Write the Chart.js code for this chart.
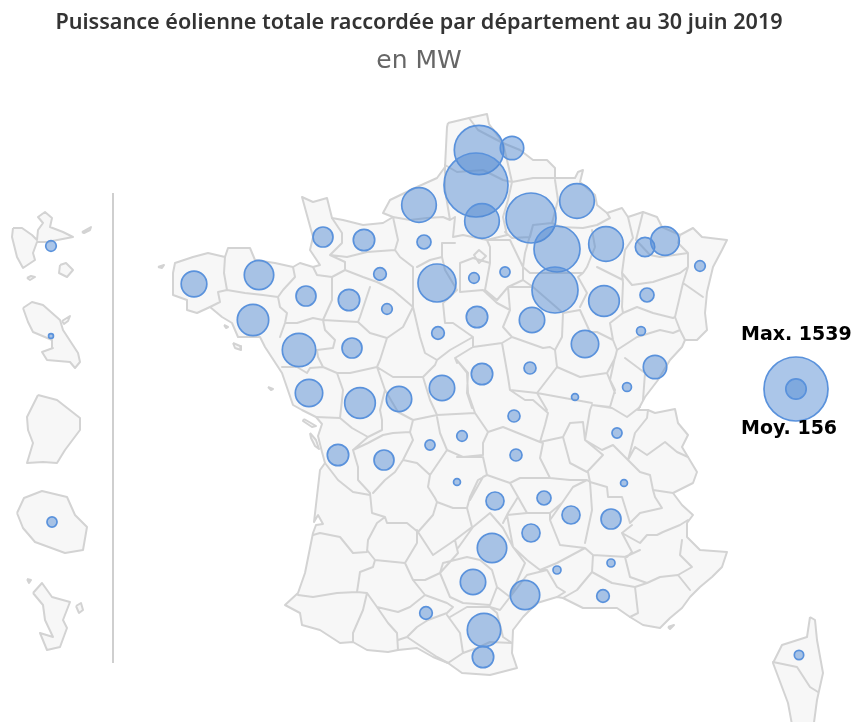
<!DOCTYPE html>
<html lang="fr">
<head>
  <meta charset="UTF-8" />
  <title>Puissance éolienne par département</title>
  <script src="https://cdn.jsdelivr.net/npm/chart.js"></script>
  <style>
    body { margin: 0; background: #ffffff; }
    canvas { display: block; }
  </style>
</head>
<body>
  <canvas id="carte" width="854" height="722"></canvas>
  <script>
    // Bubbles: map position of each department and its power in MW
    const deptX = [194,259,253,323,364,419,424,380,306,349,437,387,438,299,352,309,360,399,442,479,512,476,482,531,577,557,606,645,665,700,555,604,647,641,532,477,474,505,585,655,530,482,627,575,514,462,430,516,338,384,457,495,544,571,492,531,611,624,617,557,611,603,473,525,426,484,483,799,51,51,52];
    const deptY = [284,275,320,237,240,205,242,274,296,300,283,309,333,350,348,393,403,399,388,150,148,185,221,218,201,249,244,247,241,266,290,301,295,331,320,317,278,272,344,367,368,374,387,397,416,436,445,455,455,460,482,501,498,515,548,533,519,483,433,570,563,596,582,595,613,630,657,655,246,336,522];
    const deptMW = [247,325,370,150,172,450,74,60,150,172,543,42,60,419,150,282,352,242,242,917,206,1539,450,939,450,795,450,141,307,42,795,352,74,30,242,172,42,38,282,206,54,172,30,18,54,42,38,54,172,150,18,122,74,122,325,122,150,18,38,24,24,60,242,325,60,419,172,33,42,9,38];

    const legendValues = [1539, 156];
    const legendX = [796, 796];
    const legendY = [389, 389];
    const legendLabels = ['Max. 1539', 'Moy. 156'];
    const legendLabelY = [335, 429];
    const maxRadius = 32;

    const titleText = 'Puissance éolienne totale raccordée par département au 30 juin 2019';
    const subtitleText = 'en MW';

    // Filled land, closed outlines as x,y lists in map units
    const landShapes = [
      // metropolitan France
      [448,123,469,118,487,114,489,124,503,143,520,150,533,160,547,160,555,168,555,178,575,178,578,172,583,170,580,182,595,195,597,205,607,213,622,208,628,217,643,212,657,217,662,227,680,235,693,228,702,237,727,240,722,250,713,267,707,292,705,313,707,330,697,340,685,340,682,347,670,360,658,380,645,397,638,410,648,410,655,413,675,409,678,423,688,435,682,447,688,457,697,472,693,483,673,493,682,505,693,515,687,523,687,537,700,550,727,552,722,567,712,577,700,587,690,597,682,608,670,618,660,628,643,625,630,617,617,608,603,608,583,608,563,598,557,597,537,603,523,617,513,630,512,653,517,668,490,675,462,673,448,663,433,657,417,648,398,650,388,652,367,650,353,642,340,643,320,630,302,625,300,613,285,605,298,593,305,573,313,533,316,525,323,524,318,515,314,522,320,470,325,463,322,452,318,436,322,424,316,417,302,410,293,405,282,373,265,347,260,337,238,337,232,323,222,317,210,307,197,313,187,310,187,300,173,295,173,273,175,263,193,257,208,253,225,257,228,248,250,248,255,260,275,263,293,267,300,263,313,267,320,265,310,250,313,237,302,197,313,202,327,198,332,218,343,220,363,225,383,223,393,217,383,213,390,200,417,187,437,178,445,167,447,127],
      // Corse
      [810,617,815,620,817,640,823,673,817,700,813,730,793,730,788,703,782,687,773,663,782,645,807,637],
      // Guadeloupe
      [13,228,22,228,32,235,37,240,38,230,43,223,38,217,45,212,52,218,50,227,63,232,73,237,47,242,37,242,33,253,35,260,23,268,17,257,12,237],
      [60,265,66,263,73,270,67,277,59,273],
      [82,232,91,227,90,230,84,233],
      [27,278,31,276,35,277,30,280],
      // Martinique
      [23,308,32,302,43,305,60,320,63,330,78,353,80,362,75,368,70,362,47,360,42,352,53,348,52,340,33,332,28,322],
      [62,321,70,316,68,321,64,324],
      // Guyane
      [38,395,57,400,80,418,80,430,65,450,57,463,43,462,27,463,33,443,28,430,27,417],
      // La Réunion
      [17,513,24,498,42,491,67,497,75,515,87,527,83,550,65,553,35,542,23,528],
      // Mayotte
      [33,593,42,583,52,597,70,602,63,620,67,628,60,647,47,650,40,633,53,637,45,620,43,605],
      [76,606,81,603,83,610,79,613],
      [27,579,31,580,29,583],
      // coastal islands
      [158,267,164,265,162,268],
      [224,325,228,327,226,328],
      [233,343,240,346,241,350,235,348],
      [268,387,273,389,271,390],
      [304,419,316,426,312,427,303,421],
      [310,433,316,440,319,449,315,446,311,438],
      [668,627,674,625,670,629]
    ];

    // Boundaries between departments, open lines as x,y lists
    const deptBorders = [
      [225,257,224,273,227,290], [227,290,218,292,220,302,210,307], [227,290,245,293,263,295,278,297],
      [293,267,295,277,283,290,278,297,280,307,287,313,285,323,280,337], [285,323,297,323,313,318,323,320],
      [313,267,317,275,332,277,332,300,323,320,325,330,335,340,333,348,317,350,318,357],
      [332,218,342,233,342,243,330,255,345,262,345,270,332,277], [330,255,347,257,367,252,395,250],
      [393,217,398,240,395,250,400,257,413,267,413,280,413,307], [345,270,363,277,377,282,393,290,413,307],
      [370,287,360,317,358,322,323,320], [358,322,370,333,387,338,380,360,377,367,350,373,337,373,323,367,318,357],
      [413,307,403,327,387,338], [318,357,323,367,310,368,307,373,297,367,282,367],
      [337,373,343,390,342,400,340,418,316,417], [340,418,352,428,368,437,353,450,358,467,358,480,370,493,372,513,385,517,377,523,368,540,367,552,353,553,340,537,320,533,313,535],
      [325,463,338,480,353,492,370,495], [368,437,382,430,382,420,380,410,385,390,377,367],
      [353,450,368,443,383,435,393,433,410,432,413,440,403,460,395,472,385,480,373,493],
      [413,420,410,432], [393,377,423,377,430,400,437,415,413,420,398,412,385,390], [377,367,393,377],
      [413,307,420,337,425,353,437,360,450,350,473,337], [423,377,435,365,437,360],
      [437,415,475,413,488,432,483,443,483,455,463,457,447,450,440,433,437,417],
      [447,450,430,475,417,463,403,460], [430,475,428,487,435,498,437,502,433,515,418,532,407,523,387,523,385,517],
      [457,457,483,457,487,475,478,480,470,497,467,508,453,508,437,502],
      [417,530,417,543,405,563,375,560,367,550], [375,560,373,567,360,572,357,592], [418,532,433,555,455,540,472,527,467,508],
      [405,563,413,580,425,580,440,573,458,553,455,540],
      [298,595,313,597,337,593,357,592,367,593,377,607,398,612,410,607,425,595,413,580], [367,593,363,610,353,633,353,642],
      [377,607,388,623,397,633,398,650], [398,640,407,637,417,627,428,620,447,613,453,607,447,603,425,595],
      [407,637,437,657,448,663], [447,615,460,633,463,653,448,663], [463,653,477,648,490,642,512,643],
      [440,573,450,597,463,603,490,605,497,587,492,570,480,560,467,557,443,563,440,573],
      [450,617,467,607,490,607,497,613,503,637,512,643], [490,607,500,610,510,597,527,575,547,570,557,587,565,592,557,597],
      [458,548,473,527,490,513,503,528,513,547,525,563,510,597], [497,587,510,597],
      [470,500,483,477,487,475,510,483,518,497,508,513,503,523], [518,497,527,513,550,513,562,503,573,487],
      [510,483,520,478,550,478,540,458,543,443,540,442,503,427,488,432], [550,478,570,480,587,480],
      [475,413,468,393,467,373,455,358,457,363], [473,337,453,323,445,323,443,303,457,290,445,270,442,257,430,260,417,267],
      [442,257,442,243,455,243], [460,263,460,292,483,290,497,303,510,310,503,327,512,337,502,343,473,347,455,358,468,373,467,393,472,408],
      [460,263,473,258,490,263,485,290], [473,337,473,347], [502,343,508,377,510,390,537,393,557,367,555,350,550,347,543,348,512,337],
      [547,410,537,393], [503,327,510,310,508,287,533,287,563,313,562,337,555,350], [510,390,525,400,533,400,548,413,545,425,540,442],
      [557,367,580,377,607,373,615,358,617,350,613,340,610,323,623,313,622,307,623,283,622,273,625,250,633,238,628,217],
      [563,313,580,310,590,332,597,332,613,340], [580,307,587,293,578,277,583,273,587,267,595,247,592,230],
      [523,267,530,273,583,273], [523,280,533,287], [597,267,623,280], [533,225,525,253,523,267,523,280,508,287,497,300,485,290],
      [490,263,490,247,487,240,510,240,523,267], [512,182,508,200,503,217,507,235,487,240,463,235,453,237,455,217,450,220,443,217,427,218,410,220,393,217],
      [445,167,445,190,450,220], [445,165,457,172,483,170,503,180,512,182,533,178,555,178], [503,143,507,160,512,182],
      [469,118,478,130,497,140,503,143], [555,180,558,200,552,223,533,225,530,237,512,238,505,232], [552,223,560,227,583,228,597,225,610,218,607,213],
      [643,212,636,240,650,255,660,257,688,253,688,267,680,273,653,282,632,285,622,273], [680,235,678,243,688,253],
      [688,267,683,283,703,297], [683,283,675,317,680,330,685,340], [623,313,637,307,653,313,673,318,675,317],
      [617,350,637,337,660,330,673,333,680,330], [625,358,645,373,643,400], [615,357,610,380,615,390,610,407,592,405,590,410,585,440,583,422,570,423,563,437,540,442],
      [537,393,592,403], [615,393,607,373], [590,410,585,440,602,450,613,445,628,460,635,433,647,418,648,410], [592,405,612,408,627,417,640,407],
      [570,423,563,437,570,463,587,472,603,455,585,440], [588,472,590,482,587,480,573,487,562,503,550,520,560,545,585,548,593,555,592,572,577,590,563,598],
      [613,445,628,460,640,472,650,475,653,490,655,497,662,508,640,513,630,523,622,497,608,497,607,487,590,482],
      [628,460,635,447,647,455,665,442,677,452,688,457], [653,490,673,493], [590,482,592,510,585,543], [622,533,632,525],[622,533,632,552,627,557,593,555],
      [622,533,640,543,647,535,657,535,663,532,680,525,688,520], [640,550,625,557,630,577,647,583,660,577,678,575,692,567,680,555,682,540],
      [678,575,690,590], [635,587,638,613,630,617], [592,572,612,583,635,587,647,583], [540,570,557,563,585,548], [507,515,513,547,527,560,540,570,547,570],
      [527,513,507,515], [550,513,550,520],
      [773,662,797,667,810,687,818,692]
    ];

    // Paris and its inner suburbs
    const parisRing = [474,255,479,250,486,256,479,263,474,255];

    const separatorX = [113, 113];
    const separatorY = [193, 663];

    function toPoints(flat) {
      const points = [];
      for (let i = 0; i < flat.length; i += 2) {
        points.push({ x: flat[i], y: flat[i + 1] });
      }
      return points;
    }

    function bubbleRadius(mw) {
      return maxRadius * Math.sqrt(mw / legendValues[0]);
    }

    const bubbleFill = 'rgba(80, 135, 210, 0.48)';
    const bubbleBorder = '#5a92dc';
    const mapBorder = '#d3d3d3';

    const datasets = [];

    datasets.push({
      type: 'bubble',
      order: 0,
      clip: false,
      data: deptX.map((x, i) => ({ x: x, y: deptY[i], r: bubbleRadius(deptMW[i]) })),
      backgroundColor: bubbleFill,
      borderColor: bubbleBorder,
      borderWidth: 1.7
    });

    datasets.push({
      type: 'bubble',
      order: 0,
      clip: false,
      data: legendValues.map((v, i) => ({ x: legendX[i], y: legendY[i], r: bubbleRadius(v) })),
      backgroundColor: bubbleFill,
      borderColor: bubbleBorder,
      borderWidth: 1.7
    });

    // Department borders, one dataset with gaps between the lines
    const borderPoints = [];
    deptBorders.concat([parisRing]).forEach(line => {
      borderPoints.push(...toPoints(line), { x: null, y: null });
    });
    datasets.push({
      type: 'line',
      order: 1,
      data: borderPoints,
      borderColor: mapBorder,
      borderWidth: 2,
      pointRadius: 0,
      tension: 0,
      fill: false,
      spanGaps: false,
      borderJoinStyle: 'round',
      borderCapStyle: 'round'
    });

    landShapes.forEach(shape => {
      const points = toPoints(shape);
      points.push(points[0]);
      datasets.push({
        type: 'line',
        order: 2,
        data: points,
        borderColor: mapBorder,
        backgroundColor: '#f7f7f7',
        borderWidth: 2,
        pointRadius: 0,
        tension: 0,
        fill: 'shape',
        borderJoinStyle: 'round'
      });
    });

    datasets.push({
      type: 'line',
      order: 2,
      data: separatorX.map((x, i) => ({ x: x, y: separatorY[i] })),
      borderColor: '#cfcfcf',
      borderWidth: 2,
      pointRadius: 0,
      fill: false
    });

    // Max / Moy labels next to the legend bubble
    const legendLabelPlugin = {
      id: 'legendLabels',
      afterDatasetsDraw(chart) {
        const ctx = chart.ctx;
        ctx.save();
        ctx.font = 'bold 19px "DejaVu Sans"';
        ctx.fillStyle = '#000000';
        ctx.textAlign = 'left';
        ctx.textBaseline = 'middle';
        legendLabels.forEach((label, i) => {
          ctx.fillText(label, chart.scales.x.getPixelForValue(741), chart.scales.y.getPixelForValue(legendLabelY[i]));
        });
        ctx.restore();
      }
    };

    new Chart(document.getElementById('carte').getContext('2d'), {
      type: 'bubble',
      data: { datasets: datasets },
      plugins: [legendLabelPlugin],
      options: {
        responsive: false,
        animation: false,
        layout: { autoPadding: false, padding: { left: 0, right: 16, top: 0, bottom: 0 } },
        scales: {
          x: { type: 'linear', display: false, min: 0, max: 838 },
          y: { type: 'linear', display: false, min: 80, max: 722, reverse: true }
        },
        plugins: {
          legend: { display: false },
          tooltip: { enabled: false },
          title: {
            display: true,
            text: titleText,
            color: '#333333',
            font: { family: '"Noto Sans"', size: 21.6, weight: '600', lineHeight: '24px' },
            padding: { top: 11, bottom: 0 }
          },
          subtitle: {
            display: true,
            text: subtitleText,
            color: '#666666',
            font: { family: '"DejaVu Sans"', size: 25, weight: 'normal', lineHeight: '30px' },
            padding: { top: 11, bottom: 4 }
          }
        }
      }
    });
  </script>
</body>
</html>
